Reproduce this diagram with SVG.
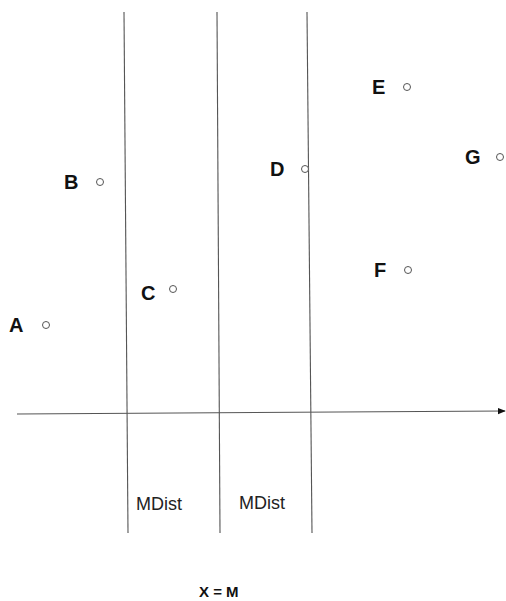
<svg xmlns="http://www.w3.org/2000/svg" width="506" height="601" viewBox="0 0 506 601">
<style>
.ln{stroke:#555;stroke-width:1.1;fill:none}
.pt{stroke:#555;stroke-width:1;fill:#fff}
.lb{font-family:"Liberation Sans",Arial,sans-serif;font-weight:bold;font-size:20px;fill:#111}
.md{font-family:"Liberation Sans",Arial,sans-serif;font-size:18px;fill:#222}
</style>
<defs>
<marker id="ah" viewBox="0 0 10 10" refX="9" refY="5" markerWidth="8" markerHeight="8" markerUnits="userSpaceOnUse" orient="auto">
<path d="M0,1 L10,5 L0,9 z" fill="#111"/>
</marker>
</defs>
<rect width="506" height="601" fill="#fff"/>
<g id="connectors">
<line class="ln" x1="124" y1="12" x2="128" y2="533"/>
<line class="ln" x1="217" y1="12" x2="220" y2="533"/>
<line class="ln" x1="307" y1="12" x2="312" y2="533"/>
<line class="ln" x1="17" y1="414" x2="505" y2="411" marker-end="url(#ah)"/>
</g>
<g id="A"><text class="lb" x="9" y="332">A</text><circle class="pt" cx="46" cy="325" r="3.5"/></g>
<g id="B"><text class="lb" x="64" y="189">B</text><circle class="pt" cx="100" cy="182" r="3.5"/></g>
<g id="C"><text class="lb" x="141" y="300">C</text><circle class="pt" cx="173" cy="289" r="3.5"/></g>
<g id="D"><text class="lb" x="270" y="176">D</text><circle class="pt" cx="305" cy="169" r="3.5"/></g>
<g id="E"><text class="lb" x="372" y="94">E</text><circle class="pt" cx="407" cy="87" r="3.5"/></g>
<g id="F"><text class="lb" x="374" y="277">F</text><circle class="pt" cx="408" cy="270" r="3.5"/></g>
<g id="G"><text class="lb" x="465" y="164">G</text><circle class="pt" cx="500" cy="157" r="3.5"/></g>
<g id="labels">
<text class="md" x="136" y="510">MDist</text>
<text class="md" x="239" y="509">MDist</text>
<text class="lb" x="199" y="597" style="font-size:15px">X = M</text>
</g>
</svg>
